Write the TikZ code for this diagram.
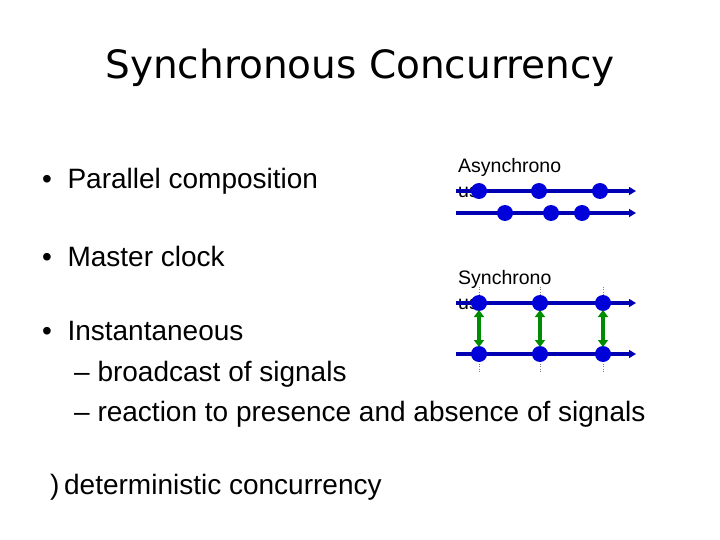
\documentclass[tikz,border=0pt]{standalone}
\usepackage{fontspec}
\setmainfont{Liberation Sans}
\newfontfamily\titlefont{DejaVu Sans}
\usetikzlibrary{arrows.meta}
\begin{document}
\begin{tikzpicture}[x=1pt,y=-1pt,
  tl/.style={draw=blue!70!black,line width=3.5pt,-{Triangle[length=7pt,width=8pt]}},
  dot/.style={circle,fill=blue!85!black,minimum size=16pt,inner sep=0pt},
  sync/.style={draw=green!55!black,line width=3.5pt,{Triangle[length=7pt,width=10pt]}-{Triangle[length=7pt,width=10pt]},shorten <=7pt,shorten >=7pt},
  vdot/.style={draw=gray,dotted,thin},
  txt/.style={anchor=west,inner sep=0pt,font=\fontsize{28}{33}\selectfont},
  small/.style={anchor=west,inner sep=0pt,font=\fontsize{19.5}{22}\selectfont}]
\useasboundingbox (0,0) rectangle (720,540);
\node[font=\titlefont\fontsize{39}{46}\selectfont] (title) at (360,68) {Synchronous Concurrency};
\node[txt] (b1) at (42,181) {•\ \ Parallel composition};
\node[txt] (b2) at (42,256) {•\ \ Master clock};
\node[txt] (b3) at (42,331) {•\ \ Instantaneous};
\node[txt] (s1) at (74,374) {– broadcast of signals};
\node[txt] (s2) at (74,414) {– reaction to presence and absence of signals};
\node[txt] (c) at (50,487) {)\,deterministic concurrency};
\node[small] (la) at (458,167) {Asynchrono};
\node[small] (la2) at (458,192) {us};
\node[small] (ls) at (458,279) {Synchrono};
\node[small] (ls2) at (458,304) {us};
% async
\coordinate (a1s) at (456,191); \coordinate (a1e) at (636,191);
\coordinate (a2s) at (456,213); \coordinate (a2e) at (636,213);
\draw[tl] (a1s) -- (a1e);
\draw[tl] (a2s) -- (a2e);
\foreach \x [count=\i] in {479,539,600} \node[dot] (ad\i) at (\x,191) {};
\foreach \x [count=\i] in {505,551,582} \node[dot] (ae\i) at (\x,213) {};
% sync
\foreach \x [count=\i] in {479,540,603} {
  \coordinate (vt\i) at (\x,287); \coordinate (vb\i) at (\x,372);
  \draw[vdot] (vt\i) -- (vb\i);
}
\coordinate (s1s) at (456,303); \coordinate (s1e) at (636,303);
\coordinate (s2s) at (456,354); \coordinate (s2e) at (636,354);
\draw[tl] (s1s) -- (s1e);
\draw[tl] (s2s) -- (s2e);
\foreach \x [count=\i] in {479,540,603} {
  \node[dot] (st\i) at (\x,303) {};
  \node[dot] (sb\i) at (\x,354) {};
  \draw[sync] (st\i.center) -- (sb\i.center);
}
\end{tikzpicture}
\end{document}
